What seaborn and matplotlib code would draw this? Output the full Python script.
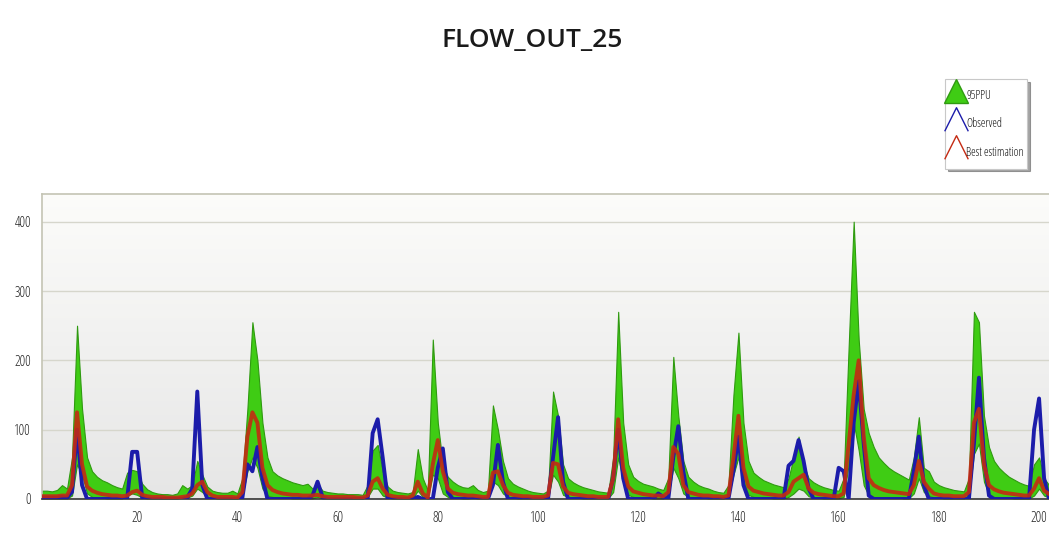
import numpy as np
import pandas as pd
import matplotlib
matplotlib.use("Agg")
import matplotlib.pyplot as plt
from matplotlib.lines import Line2D
from matplotlib.colors import LinearSegmentedColormap
import seaborn as sns

# time steps (months)
months = np.arange(1, 204)

# 95PPU band, upper bound
ppu_upper = [
    12, 12, 11, 13, 20, 15, 60, 250, 130, 60,
    40, 32, 27, 24, 20, 17, 15, 38, 42, 40,
    22, 14, 10, 8, 7, 7, 6, 8, 20, 15,
    20, 55, 35, 18, 12, 10, 9, 9, 12, 8,
    30, 130, 255, 200, 110, 60, 40, 34, 30, 27,
    24, 22, 20, 22, 15, 22, 12, 10, 9, 8,
    8, 7, 7, 7, 6, 20, 70, 78, 40, 18,
    12, 10, 9, 8, 10, 72, 30, 12, 230, 110,
    50, 32, 25, 20, 17, 16, 20, 13, 10, 12,
    135, 100, 55, 30, 22, 18, 15, 12, 10, 9,
    8, 12, 155, 120, 50, 30, 24, 20, 17, 15,
    13, 11, 10, 9, 60, 270, 110, 50, 32, 26,
    22, 20, 18, 15, 13, 30, 205, 120, 55, 32,
    25, 20, 17, 15, 12, 10, 9, 20, 150, 240,
    110, 55, 38, 32, 27, 24, 21, 19, 17, 30,
    60, 90, 50, 30, 24, 20, 17, 15, 13, 12,
    30, 220, 400, 230, 130, 95, 75, 60, 52, 45,
    40, 36, 32, 28, 60, 118, 45, 40, 25, 20,
    17, 15, 13, 12, 11, 30, 270, 255, 120, 75,
    55, 45, 38, 32, 28, 24, 21, 19, 50, 60,
    30, 20, 16,
]

# 95PPU band, lower bound
ppu_lower = [
    1, 1, 1, 1, 1, 1, 5, 50, 35, 8,
    3, 2, 2, 1, 1, 1, 1, 5, 8, 6,
    2, 1, 1, 1, 1, 1, 1, 1, 2, 2,
    5, 15, 10, 3, 2, 1, 1, 1, 1, 1,
    5, 40, 60, 45, 15, 5, 3, 2, 2, 2,
    1, 1, 1, 1, 1, 3, 1, 1, 1, 1,
    1, 1, 1, 1, 1, 3, 15, 15, 5, 2,
    1, 1, 1, 1, 1, 12, 3, 1, 35, 30,
    8, 3, 2, 2, 1, 1, 2, 1, 1, 1,
    25, 20, 8, 3, 2, 1, 1, 1, 1, 1,
    1, 2, 35, 25, 6, 3, 2, 2, 1, 1,
    1, 1, 1, 1, 10, 60, 25, 6, 3, 2,
    2, 2, 1, 1, 1, 5, 45, 30, 8, 3,
    2, 2, 2, 1, 1, 1, 1, 3, 35, 60,
    25, 6, 3, 2, 2, 2, 1, 1, 1, 3,
    8, 15, 12, 4, 2, 2, 1, 1, 1, 1,
    3, 50, 110, 70, 20, 5, 3, 2, 2, 2,
    2, 2, 1, 1, 8, 30, 10, 5, 2, 2,
    1, 1, 1, 1, 1, 5, 65, 80, 25, 6,
    3, 2, 2, 2, 1, 1, 1, 1, 5, 15,
    5, 2, 1,
]

observed = [
    2, 2, 2, 2, 3, 2, 10, 100, 20, 0,
    0, 0, 0, 0, 0, 0, 0, 0, 68, 68,
    2, 0, 0, 0, 0, 0, 0, 0, 0, 2,
    15, 155, 20, 0, 0, 0, 0, 0, 0, 0,
    2, 50, 40, 75, 30, 0, 0, 0, 0, 0,
    0, 0, 0, 0, 5, 25, 3, 0, 0, 0,
    0, 0, 0, 0, 0, 0, 95, 115, 60, 0,
    0, 0, 0, 0, 0, 3, 0, 0, 0, 45,
    73, 10, 0, 0, 0, 0, 0, 0, 0, 0,
    20, 78, 25, 0, 0, 0, 0, 0, 0, 0,
    0, 0, 60, 118, 25, 0, 0, 0, 0, 0,
    0, 0, 0, 0, 30, 100, 30, 0, 0, 0,
    0, 0, 0, 8, 3, 0, 60, 105, 40, 0,
    0, 0, 0, 0, 0, 0, 0, 0, 40, 90,
    20, 0, 0, 0, 0, 0, 0, 0, 0, 48,
    55, 85, 55, 15, 0, 0, 0, 0, 0, 45,
    40, 0, 110, 170, 80, 5, 0, 0, 0, 0,
    0, 0, 0, 0, 40, 90, 20, 0, 0, 0,
    0, 0, 0, 0, 0, 0, 80, 175, 60, 5,
    0, 0, 0, 0, 0, 0, 0, 0, 100, 145,
    30, 0, 0,
]

best_estimation = [
    4, 4, 4, 4, 5, 5, 20, 125, 50, 18,
    12, 9, 7, 6, 5, 5, 4, 5, 10, 12,
    6, 4, 3, 3, 3, 2, 2, 2, 3, 4,
    8, 20, 25, 10, 5, 3, 3, 3, 3, 2,
    10, 90, 125, 110, 45, 20, 13, 10, 8, 7,
    6, 6, 5, 5, 5, 6, 4, 3, 3, 3,
    3, 3, 3, 2, 2, 5, 25, 30, 15, 6,
    4, 3, 3, 2, 5, 25, 8, 2, 50, 85,
    40, 15, 9, 7, 6, 5, 5, 4, 3, 3,
    38, 40, 20, 9, 6, 5, 4, 4, 3, 3,
    3, 5, 52, 50, 18, 9, 7, 6, 5, 4,
    4, 3, 3, 3, 30, 115, 45, 18, 11, 9,
    7, 6, 5, 5, 4, 10, 75, 65, 20, 10,
    8, 6, 5, 5, 4, 4, 3, 5, 60, 120,
    45, 18, 12, 10, 8, 7, 6, 5, 5, 10,
    25, 30, 35, 15, 9, 7, 6, 5, 4, 4,
    8, 80, 150, 200, 90, 30, 20, 16, 13, 11,
    10, 9, 8, 7, 20, 55, 25, 15, 8, 6,
    5, 5, 4, 4, 4, 10, 110, 130, 50, 20,
    14, 11, 9, 8, 7, 6, 5, 5, 15, 30,
    12, 7, 5,
]

df = pd.DataFrame({
    "month": months,
    "upper": ppu_upper,
    "lower": ppu_lower,
    "Observed": observed,
    "Best estimation": best_estimation,
})

sns.set_style("white")
plt.rcParams["font.family"] = ["Open Sans", "DejaVu Sans"]
plt.rcParams["font.stretch"] = "condensed"

green = "#3fcc14"
blue = "#1c1caa"
red = "#c42a12"

fig = plt.figure(figsize=(10.49, 5.38), dpi=100)
ax = fig.add_axes([0.040, 0.0725, 0.962, 0.567])

# soft vertical gradient behind the plot, like the original tool
grad = np.linspace(0, 1, 256).reshape(-1, 1)
cmap = LinearSegmentedColormap.from_list("bg", ["#e6e6e6", "#fcfcfa"])
ax.imshow(grad, extent=[0, 1, 0, 1], transform=ax.transAxes, aspect="auto",
          cmap=cmap, origin="lower", zorder=0)

for yv in [100, 200, 300, 400]:
    ax.axhline(yv, color="#d6d6cc", lw=1, zorder=1)

ax.fill_between(df["month"], df["lower"], df["upper"], color=green,
                edgecolor="#2f9a10", lw=0.8, zorder=2)
sns.lineplot(data=df, x="month", y="Observed", color=blue, lw=2.8, ax=ax, zorder=3)
sns.lineplot(data=df, x="month", y="Best estimation", color=red, lw=2.8, ax=ax,
             zorder=4, alpha=0.9)

ax.set_xlim(1, 202.4)
ax.set_ylim(0, 440)
ax.set_xlabel("")
ax.set_ylabel("")
ax.set_xticks(range(20, 201, 20))
ax.set_xticks(range(10, 201, 10), minor=True)
ax.set_yticks([0, 100, 200, 300, 400])
ax.set_yticks([50, 150, 250, 350], minor=True)
ax.tick_params(axis="both", which="major", length=4, width=0.8, color="#555555",
               labelsize=10, labelcolor="#222222", direction="out")
ax.tick_params(axis="both", which="minor", length=2, width=0.6, color="#777777")
ax.tick_params(axis="x", pad=5)
ax.tick_params(axis="y", pad=4)

for side in ["left", "top"]:
    ax.spines[side].set_color("#c4c4b4")
    ax.spines[side].set_linewidth(1.2)
ax.spines["bottom"].set_color("#333333")
ax.spines["bottom"].set_linewidth(1.2)
ax.spines["right"].set_visible(False)

fig.text(0.507, 0.925, "FLOW_OUT_25", ha="center", va="center", fontsize=19,
         color="#1a1a1a", weight="semibold")

# legend in the style of the source program
lam = [(-1, -1), (0, 1), (1, -1)]
handles = [
    Line2D([], [], ls="none", marker="^", markersize=17, color=green,
           markeredgecolor="#2f9a10"),
    Line2D([], [], ls="none", marker=lam, markersize=17, color=blue,
           mfc="none", markeredgewidth=1),
    Line2D([], [], ls="none", marker=lam, markersize=17, color=red,
           mfc="none", markeredgewidth=1),
]
leg = fig.legend(handles, ["95PPU", "Observed", "Best estimation"],
                 loc="upper left", bbox_to_anchor=(0.901, 0.853), frameon=True,
                 fancybox=False, shadow=True, fontsize=8.5, handlelength=1.3,
                 handleheight=3.0, handletextpad=0.2, labelspacing=0.2,
                 borderpad=0.3, borderaxespad=0)
for t in leg.get_texts():
    t.set_color("#111111")
leg.get_frame().set_edgecolor("#c8c8c8")
leg.get_frame().set_linewidth(0.8)

fig.savefig("out.png", dpi=100, facecolor="white")
